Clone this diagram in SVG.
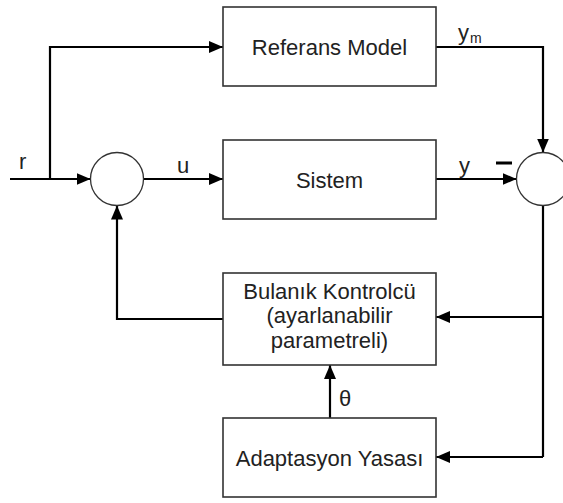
<svg xmlns="http://www.w3.org/2000/svg" width="563" height="503" viewBox="0 0 563 503">
<defs>
<marker id="ah" markerUnits="userSpaceOnUse" markerWidth="14" markerHeight="12" refX="14" refY="6" orient="auto">
<path d="M0,0 L14,6 L0,12 z" fill="#000"/>
</marker>
<style>
.box{fill:#fff;stroke:#333;stroke-width:1.6}
.sum{fill:#fff;stroke:#333;stroke-width:1.3}
.ln{fill:none;stroke:#000;stroke-width:2.2}
.arr{marker-end:url(#ah)}
text{font-family:"Liberation Sans",Arial,sans-serif;font-size:22px;fill:#222}
.c{text-anchor:middle}
</style>
</defs>
<rect width="563" height="503" fill="#fff"/>
<g id="connectors">
<path class="ln arr" d="M10,179 L90.5,179"/>
<path class="ln arr" d="M50,179 L50,47 L223,47"/>
<path class="ln arr" d="M143.5,179 L223,179"/>
<path class="ln arr" d="M436,47 L543,47 L543,152.5"/>
<path class="ln arr" d="M436,179 L516.5,179"/>
<path class="ln" d="M543,205.5 L543,457"/>
<path class="ln arr" d="M543,457 L436,457"/>
<path class="ln arr" d="M543,317 L436,317"/>
<path class="ln arr" d="M330,418 L330,365"/>
<path class="ln arr" d="M223,319 L117,319 L117,205.5"/>
<rect x="496" y="161.5" width="16" height="3" fill="#000"/>
<text x="19" y="169">r</text>
<text x="177" y="173">u</text>
<text x="458" y="40">y</text><text x="470" y="43" style="font-size:14px">m</text>
<text x="459" y="173">y</text>
<text x="339" y="406">θ</text>
</g>
<g id="referans"><rect class="box" x="223" y="7" width="213" height="79"/><text class="c" x="329.5" y="55">Referans Model</text></g>
<g id="sistem"><rect class="box" x="223" y="140" width="213" height="79"/><text class="c" x="329.5" y="187.5">Sistem</text></g>
<g id="bulanik"><rect class="box" x="223" y="273" width="213" height="92"/>
<text class="c" x="329.5" y="298.5">Bulanık Kontrolcü</text>
<text class="c" x="329.5" y="323">(ayarlanabilir</text>
<text class="c" x="329.5" y="347.5">parametreli)</text></g>
<g id="adaptasyon"><rect class="box" x="223" y="418" width="213" height="79"/><text class="c" x="329.5" y="466">Adaptasyon Yasası</text></g>
<g id="sum1"><circle class="sum" cx="117" cy="179" r="26.5"/></g>
<g id="sum2"><circle class="sum" cx="543" cy="179" r="26.5"/></g>
</svg>
